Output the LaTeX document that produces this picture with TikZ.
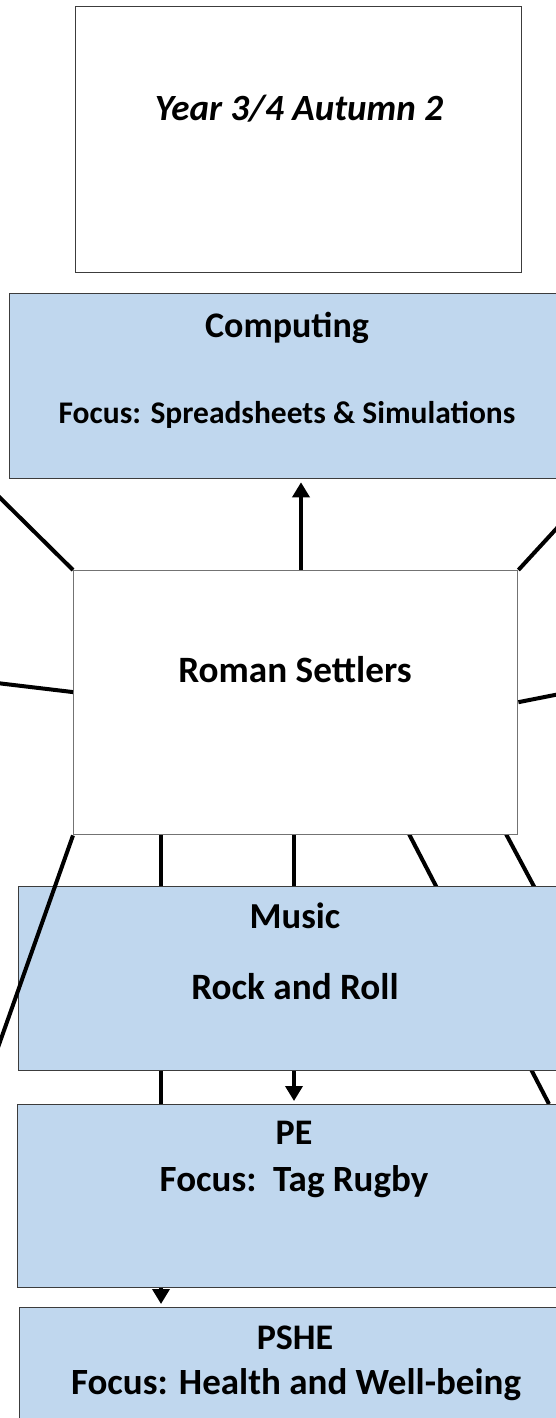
\documentclass[tikz,border=0pt]{standalone}
\usepackage{fontspec}
\setmainfont{Carlito}
\usetikzlibrary{arrows.meta,calc}
\definecolor{boxblue}{RGB}{192,215,238}
\definecolor{edgedark}{RGB}{60,60,60}
\definecolor{edgesoft}{RGB}{115,115,115}
\tikzset{
  panel/.style={draw=edgedark, line width=1.3pt, fill=boxblue, inner sep=0pt, anchor=north west},
  plainpanel/.style={draw=edgedark, line width=1.2pt, fill=white, inner sep=0pt, anchor=north west},
  hubpanel/.style={draw=edgesoft, line width=1.4pt, fill=white, inner sep=0pt, anchor=north west},
  label/.style={inner sep=0pt, anchor=base, font=\bfseries},
  link/.style={line width=4pt, black},
  arrowlink/.style={line width=3.6pt, black, -{Triangle[length=15pt,width=17pt]}, shorten >=3pt},
}
\begin{document}
\begin{tikzpicture}[x=1pt,y=-1pt]
\useasboundingbox (0,0) rectangle (556,1418);
\clip (0,0) rectangle (556,1418);

% column guides for the vertical connectors
\coordinate (colA) at (161,0);
\coordinate (colB) at (294,0);
\coordinate (colC) at (301,0);

% off-page ends of the spokes
\coordinate (offNW) at (-20,478);
\coordinate (offNE) at (580,503);
\coordinate (offW) at (-20,681);
\coordinate (offE) at (580,690);
\coordinate (offSW) at (-10,1070);
\coordinate (offSE) at (600,1010);
\coordinate (hubSE) at (409,834);
\coordinate (hubSEE) at (506,834);
\coordinate (peTop) at (549,1104);

% connectors that run behind the boxes
\draw[link] (hubSE) -- (peTop);
\draw[link] (hubSEE) -- (offSE);
\draw[link] (161,834) -- (161,1104);
\draw[link] (294,834) -- (294,1070);

% boxes
\node[plainpanel, minimum width=446pt, minimum height=266pt] (title) at (75,6) {};
\node[panel, minimum width=557pt, minimum height=185pt] (comp) at (9,293) {};
\node[hubpanel, minimum width=444pt, minimum height=264pt] (hub) at (73,570) {};
\node[panel, minimum width=555pt, minimum height=184pt] (music) at (18,886) {};
\node[panel, minimum width=554pt, minimum height=183pt] (pe) at (17,1104) {};
\node[panel, minimum width=552pt, minimum height=200pt] (pshe) at (19,1307) {};

% connectors drawn over the boxes
\draw[link] (hub.south -| colA) -- (music.north -| colA);
\draw[link] (music.south -| colA) -- (pe.north -| colA);
\draw[arrowlink] (pe.south -| colA) -- (pshe.north -| colA);
\draw[link] (hub.south -| colB) -- (music.north -| colB);
\draw[arrowlink] (music.south -| colB) -- (pe.north -| colB);
\draw[arrowlink] (hub.north -| colC) -- (comp.south -| colC);
\draw[link] (hub.north west) -- (offNW);
\draw[link] (hub.north east) -- (offNE);
\draw[link] ($(hub.north west)!0.46!(hub.south west)$) -- (offW);
\draw[link] ($(hub.north east)!0.498!(hub.south east)$) -- (offE);
\draw[link] (hub.south west) -- (offSW);

% texts
\node[label, font=\bfseries\itshape\fontsize{37}{40}\selectfont] (t0) at (299,121) {Year 3/4 Autumn 2};
\node[label, font=\bfseries\fontsize{36}{40}\selectfont] (t1) at (287,337) {Computing};
\node[label, font=\bfseries\fontsize{31.5}{36}\selectfont] (t2) at (287,423) {Focus: Spreadsheets \& Simulations};
\node[label, font=\bfseries\fontsize{37.2}{40}\selectfont] (t3) at (295,682) {Roman Settlers};
\node[label, font=\bfseries\fontsize{36.6}{40}\selectfont] (t4) at (295,928) {Music};
\node[label, font=\bfseries\fontsize{37.2}{40}\selectfont] (t5) at (295,999) {Rock and Roll};
\node[label, font=\bfseries\fontsize{36}{40}\selectfont] (t6) at (294,1144) {PE};
\node[label, font=\bfseries\fontsize{37}{40}\selectfont] (t7) at (294,1191) {Focus:\ \ Tag Rugby};
\node[label, font=\bfseries\fontsize{36}{40}\selectfont] (t8) at (295,1349) {PSHE};
\node[label, font=\bfseries\fontsize{37}{40}\selectfont] (t9) at (296,1394) {Focus: Health and Well-being};
\end{tikzpicture}
\end{document}
